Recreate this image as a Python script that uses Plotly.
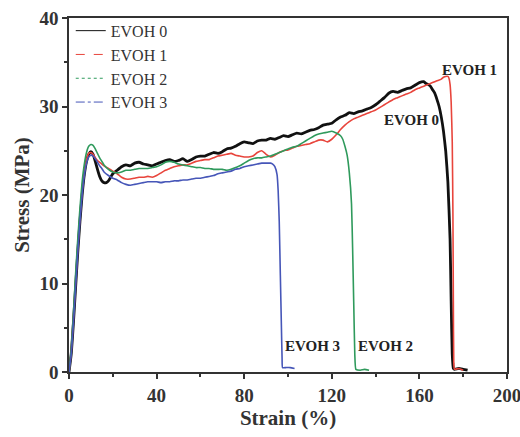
import plotly.graph_objects as go

# ---------------- data ----------------
evoh0_strain = [0,1,2,3,4,5,6,7,8,9,10,11,12,13,14,15,16,17,18,19,20,22,24,26,28,30,32,34,36,38,40,42,44,46,48,50,52,54,56,58,60,62,64,66,68,70,72,74,76,78,80,82,84,86,88,90,92,94,96,98,100,102,104,106,108,110,112,114,116,118,120,122,124,126,128,130,132,134,136,138,140,142,144,146,148,150,152,154,156,158,160,162,163,164,165,166,167,168,169,170,171,172,173,174,174.5,175,175.5,176,178,180,182]
evoh0_stress = [0,2,5.5,9.5,13.5,17,20,22.3,23.8,24.6,24.9,24.6,23.8,22.9,22.1,21.6,21.4,21.4,21.6,22.0,22.4,22.8,23.2,23.4,23.3,23.6,23.7,23.5,23.4,23.3,23.5,23.7,23.9,24.0,23.8,23.9,24.1,23.8,24.0,24.3,24.4,24.4,24.6,24.8,24.7,24.9,25.2,25.3,25.5,25.8,26.0,25.9,25.8,26.1,26.2,26.2,26.4,26.3,26.5,26.7,26.6,26.8,27.0,26.9,27.1,27.3,27.4,27.6,27.9,28.0,28.1,28.5,28.8,29.0,29.3,29.2,29.4,29.5,29.7,29.9,30.2,30.6,31.0,31.5,31.7,31.6,31.8,32.0,32.1,32.4,32.7,32.8,32.6,32.5,32.3,31.9,31.5,30.8,30.0,28.8,27.2,25.0,21.5,15,8,2,0.4,0.3,0.4,0.3,0.2]

evoh1_strain = [0,1,2,3,4,5,6,7,8,9,10,11,12,13,14,15,16,18,20,22,24,26,28,30,32,34,36,38,40,42,44,46,48,50,52,54,56,58,60,62,64,66,68,70,72,74,76,78,80,82,84,86,88,90,92,94,96,98,100,102,104,106,108,110,112,114,116,118,120,122,124,126,128,130,132,134,136,138,140,142,144,146,148,150,152,154,156,158,160,162,164,166,168,170,171,172,173,173.5,174,174.5,175,175.3,175.5,175.7,176,178,180]
evoh1_stress = [0,2.2,6,10,14,17.5,20.5,22.7,24.0,24.7,24.8,24.6,24.2,23.9,23.7,23.5,23.3,23.0,22.7,22.4,22.0,21.8,21.8,21.9,22.0,22.0,22.1,22.0,22.2,22.5,22.8,23.0,23.2,23.3,23.4,23.4,23.6,23.8,23.9,24.0,24.0,24.2,24.4,24.5,24.6,24.7,24.5,24.4,24.3,24.3,24.4,24.8,25.0,24.6,24.3,24.5,24.8,25.0,25.1,25.3,25.5,25.6,25.7,25.8,26.0,26.2,26.2,26.0,26.3,26.8,27.4,27.9,28.3,28.6,28.8,29.0,29.2,29.4,29.6,29.9,30.2,30.5,30.8,31.0,31.2,31.4,31.6,31.9,32.1,32.3,32.5,32.7,32.9,33.1,33.3,33.4,33.4,33.2,32.5,30.5,26,18,8,1,0.3,0.4,0.2]

evoh2_strain = [0,1,2,3,4,5,6,7,8,9,10,11,12,13,14,15,16,18,20,22,24,26,28,30,32,34,36,38,40,42,44,46,48,50,52,54,56,58,60,62,64,66,68,70,72,74,76,78,80,82,84,86,88,90,92,94,96,98,100,102,104,106,108,110,112,114,116,118,120,122,124,125,126,127,128,129,129.5,130,130.5,131,133,135,137]
evoh2_stress = [0,2.5,6.5,11,15,18.5,21.5,23.5,24.8,25.5,25.7,25.6,25.2,24.7,24.2,23.8,23.4,22.9,22.6,22.5,22.6,22.8,22.8,22.9,23.0,23.0,23.0,23.1,23.2,23.4,23.7,23.8,23.7,23.5,23.4,23.3,23.2,23.1,23.1,23.0,23.0,22.9,22.9,22.9,22.8,22.9,23.1,23.3,23.6,23.9,24.1,24.2,24.2,24.3,24.4,24.6,24.8,25.0,25.2,25.4,25.5,25.8,26.1,26.4,26.7,26.9,27.0,27.1,27.2,27.0,26.7,26.3,25.5,24.5,22.5,19,14,8,2,0.3,0.2,0.3,0.2]

evoh3_strain = [0,1,2,3,4,5,6,7,8,9,10,11,12,13,14,15,16,18,20,22,24,26,28,30,32,34,36,38,40,42,44,46,48,50,52,54,56,58,60,62,64,66,68,70,72,74,76,78,80,82,84,86,88,90,92,93,94,95,95.5,96,96.5,97,97.3,97.5,99,101,103]
evoh3_stress = [0,2,5.5,9.5,13.5,17,20,22.2,23.6,24.3,24.5,24.4,24.1,23.7,23.3,23.0,22.6,22.2,21.9,21.7,21.4,21.2,21.1,21.2,21.3,21.4,21.5,21.5,21.5,21.4,21.5,21.5,21.6,21.6,21.7,21.7,21.8,21.9,21.9,22.0,22.1,22.2,22.4,22.5,22.6,22.7,22.9,23.0,23.2,23.3,23.4,23.5,23.6,23.6,23.6,23.5,23.2,22.3,20.5,17,11,5,1.5,0.5,0.5,0.5,0.4]

series_names = ["EVOH 0", "EVOH 1", "EVOH 2", "EVOH 3"]
x_ticks = [0, 40, 80, 120, 160, 200]
y_ticks = [0, 10, 20, 30, 40]

# label annotations (text, strain, stress)
labels = [("EVOH 1", 183, 34.1), ("EVOH 0", 156.4, 28.5),
          ("EVOH 3", 111.4, 2.9), ("EVOH 2", 144.5, 2.9)]

# ---------------- styling ----------------
colors = ["#111111", "#e8453c", "#2f9a5c", "#4656b8"]
widths = [2.8, 1.6, 1.6, 1.6]
dashes = ["solid", "dash", "dot", "dashdot"]
serif = "Liberation Serif, Times New Roman, serif"

data = [(evoh0_strain, evoh0_stress), (evoh1_strain, evoh1_stress),
        (evoh2_strain, evoh2_stress), (evoh3_strain, evoh3_stress)]

fig = go.Figure()
for (xs, ys), c, w in zip(data, colors, widths):
    fig.add_trace(go.Scatter(x=xs, y=ys, mode="lines", showlegend=False,
                             line=dict(color=c, width=w, shape="spline", smoothing=0.4),
                             hoverinfo="skip"))
# legend entries with line styles
for name, c, d in zip(series_names, colors, dashes):
    fig.add_trace(go.Scatter(x=[None], y=[None], mode="lines", name=name,
                             line=dict(color=c, width=1, dash=d)))

for txt, x, y in labels:
    fig.add_annotation(x=x, y=y, text="<b>" + txt + "</b>", showarrow=False,
                       font=dict(family=serif, size=15, color="#222"))

axis_common = dict(showline=True, linecolor="#333", linewidth=1.5, mirror=True,
                   ticks="outside", ticklen=5, tickwidth=1.5, tickcolor="#333",
                   showgrid=False, zeroline=False, automargin=False,
                   ticklabeloverflow="allow",
                   tickfont=dict(family=serif, size=19, color="#333", weight="bold"))

fig.update_layout(
    width=520, height=437,
    margin=dict(l=69, r=13, t=18, b=65),
    paper_bgcolor="white", plot_bgcolor="white",
    xaxis=dict(range=[0, 200], tickvals=x_ticks,
               minor=dict(ticks="outside", ticklen=3, dtick=20, tickcolor="#333", tickwidth=1.5),
               title=dict(text="Strain (%)", standoff=4,
                          font=dict(family=serif, size=21, color="#333", weight="bold")),
               **axis_common),
    yaxis=dict(range=[0, 40], tickvals=y_ticks,
               minor=dict(ticks="outside", ticklen=3, dtick=5, tickcolor="#333", tickwidth=1.5),
               title=dict(text="Stress (MPa)", standoff=4,
                          font=dict(family=serif, size=21, color="#333", weight="bold")),
               **axis_common),
    legend=dict(x=0.004, y=1.012, xanchor="left", yanchor="top", bgcolor="rgba(0,0,0,0)",
                font=dict(family=serif, size=16, color="#333"), tracegroupgap=0,
                itemwidth=30),
    showlegend=True,
)

fig.write_html("out.html")
